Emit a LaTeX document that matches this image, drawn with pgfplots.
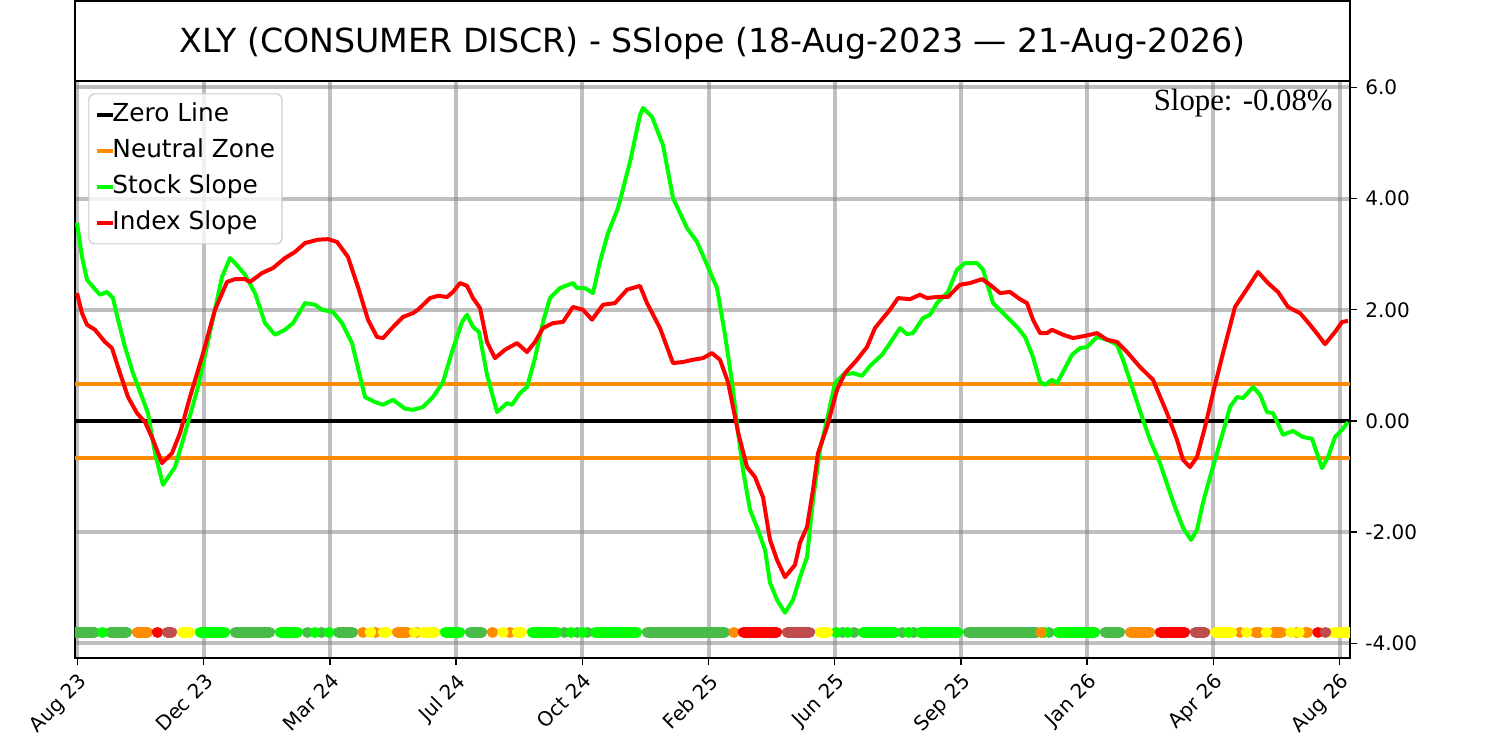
\documentclass[border=0pt]{standalone}
\usepackage{pgfplots}
\pgfplotsset{compat=1.18}
\usepackage{fontspec}
\setmainfont{DejaVu Sans}
\newfontfamily\slopefont{Liberation Serif}
\definecolor{lime}{RGB}{0,255,0}
\definecolor{dorange}{RGB}{255,140,0}
\definecolor{mgreen}{RGB}{72,187,72}
\definecolor{ired}{RGB}{192,77,77}
\definecolor{yel}{RGB}{255,255,0}
\begin{document}
\begin{tikzpicture}
\useasboundingbox (-37.5pt,-41.5pt) rectangle (712.5pt,329pt);
\begin{axis}[
  at={(0pt,0pt)}, anchor=south west,
  scale only axis, width=637.5pt, height=288.5pt,
  xmin=75, xmax=1350, ymin=-4.265, ymax=6.115,
  xtick={77.5,203.7,329.9,456.1,582.3,708.5,834.7,960.9,1087.1,1213.3,1339.5},
  xticklabels={Aug 23,Dec 23,Mar 24,Jul 24,Oct 24,Feb 25,Jun 25,Sep 25,Jan 26,Apr 26,Aug 26},
  ytick={-4,-2,0,2,4,6},
  yticklabels={-4.00,-2.00,0.00,2.00,4.00,6.0},
  xtick pos=left, ytick pos=right, yticklabel pos=right,
  tick align=outside,
  major tick length=3.5pt,
  every tick/.style={black, line width=0.75pt},
  axis line style={line width=0.9pt},
  grid=major,
  major grid style={draw=gray, draw opacity=0.5, line width=2pt},
  ticklabel style={font=\fontsize{10}{12}\selectfont},
  xticklabel style={yshift=-2pt, rotate=45, anchor=north east, inner sep=1pt},
  yticklabel style={anchor=west, inner sep=0pt, xshift=4pt},
  unbounded coords=jump,
  legend style={
    at={(0.0104,0.9787)}, anchor=north west,
    draw=black!20, line width=0.6pt, rounded corners=3pt,
    fill=white, fill opacity=0.8, text opacity=1,
    font=\fontsize{12.4}{14}\selectfont,
    inner xsep=3pt, inner ysep=4pt,
    row sep=5pt,
    nodes={inner sep=0.5pt, text height=9.5pt, text depth=2.5pt},
    /tikz/every odd column/.append style={column sep=-1.5pt},
  },
  legend cell align=left,
  legend image code/.code={\draw[#1, line width=1.8pt] (0pt,0pt) -- (8pt,0pt);},
]
\addplot[black, line width=1.8pt] coordinates {(75,0) (1350,0)};
\addlegendentry{Zero Line}
\addplot[dorange, line width=1.8pt] coordinates {(75,0.665) (1350,0.665)};
\addlegendentry{Neutral Zone}
\addplot[dorange, line width=1.8pt, forget plot] coordinates {(75,-0.665) (1350,-0.665)};
% status strip
\addplot[mgreen, line width=5.6pt, line cap=round, forget plot] coordinates {
(70,-3.8) (94.5,-3.8) (95,nan) (110.5,-3.8) (126.5,-3.8) (127,nan) (235.5,-3.8) (269.5,-3.8) (270,nan)
(307.45,-3.8) (307.55,-3.8) (308,nan) (321.45,-3.8) (321.55,-3.8) (322,nan) (338.5,-3.8) (352.5,-3.8) (353,nan)
(470.5,-3.8) (481.5,-3.8) (482,nan) (564.45,-3.8) (564.55,-3.8) (565,nan) (577.45,-3.8) (577.55,-3.8) (578,nan)
(587.45,-3.8) (587.55,-3.8) (588,nan) (647.5,-3.8) (724.5,-3.8) (725,nan) (842.45,-3.8) (842.55,-3.8) (843,nan)
(853.95,-3.8) (854.05,-3.8) (855,nan) (902.45,-3.8) (902.55,-3.8) (903,nan) (913.45,-3.8) (913.55,-3.8) (914,nan)
(968.5,-3.8) (1036.5,-3.8) (1037,nan) (1048.95,-3.8) (1049.05,-3.8) (1050,nan) (1105.5,-3.8) (1119.5,-3.8)};
\addplot[lime, line width=5.6pt, line cap=round, forget plot] coordinates {
(102.45,-3.8) (102.55,-3.8) (103,nan) (200.5,-3.8) (224.5,-3.8) (225,nan) (280.5,-3.8) (297.5,-3.8) (298,nan)
(314.95,-3.8) (315.05,-3.8) (316,nan) (328.95,-3.8) (329.05,-3.8) (330,nan) (445.5,-3.8) (459.5,-3.8) (460,nan)
(532.5,-3.8) (556.5,-3.8) (557,nan) (570.95,-3.8) (571.05,-3.8) (572,nan) (582.45,-3.8) (582.55,-3.8) (583,nan)
(595.5,-3.8) (636.5,-3.8) (637,nan) (836.45,-3.8) (836.55,-3.8) (837,nan) (847.45,-3.8) (847.55,-3.8) (848,nan)
(863.5,-3.8) (894.5,-3.8) (895,nan) (908.45,-3.8) (908.55,-3.8) (909,nan) (920.5,-3.8) (957.5,-3.8) (958,nan)
(1043.95,-3.8) (1044.05,-3.8) (1045,nan) (1058.5,-3.8) (1094.5,-3.8)};
\addplot[dorange, line width=5.6pt, line cap=round, forget plot] coordinates {
(137.5,-3.8) (147.5,-3.8) (148,nan) (362.95,-3.8) (363.05,-3.8) (364,nan) (375.45,-3.8) (375.55,-3.8) (376,nan)
(397.5,-3.8) (407.5,-3.8) (408,nan) (416.95,-3.8) (417.05,-3.8) (418,nan) (492.45,-3.8) (492.55,-3.8) (493,nan)
(509.95,-3.8) (510.05,-3.8) (511,nan) (733.95,-3.8) (734.05,-3.8) (735,nan) (1040.95,-3.8) (1041.05,-3.8) (1042,nan)
(1130.5,-3.8) (1149.5,-3.8) (1150,nan) (1239.95,-3.8) (1240.05,-3.8) (1241,nan) (1255.5,-3.8) (1259.5,-3.8) (1260,nan)
(1273.5,-3.8) (1281.5,-3.8) (1282,nan) (1296.45,-3.8) (1296.55,-3.8) (1297,nan) (1305.5,-3.8) (1307.5,-3.8)};
\addplot[yel, line width=5.6pt, line cap=round, forget plot] coordinates {
(182.5,-3.8) (189.5,-3.8) (190,nan) (370.45,-3.8) (370.55,-3.8) (371,nan) (383.5,-3.8) (386.5,-3.8) (387,nan)
(414.45,-3.8) (414.55,-3.8) (415,nan) (423.5,-3.8) (434.5,-3.8) (435,nan) (502.95,-3.8) (503.05,-3.8) (504,nan)
(517.5,-3.8) (521.5,-3.8) (522,nan) (820.5,-3.8) (827.5,-3.8) (828,nan) (1215.5,-3.8) (1231.5,-3.8) (1232,nan)
(1246.45,-3.8) (1246.55,-3.8) (1247,nan) (1266.45,-3.8) (1266.55,-3.8) (1267,nan) (1290.95,-3.8) (1291.05,-3.8) (1292,nan)
(1298.95,-3.8) (1299.05,-3.8) (1300,nan) (1333.5,-3.8) (1360,-3.8)};
\addplot[red, line width=5.6pt, line cap=round, forget plot] coordinates {
(157.45,-3.8) (157.55,-3.8) (158,nan) (743.5,-3.8) (776.5,-3.8) (777,nan) (1160.5,-3.8) (1184.5,-3.8) (1185,nan)
(1317.95,-3.8) (1318.05,-3.8)};
\addplot[ired, line width=5.6pt, line cap=round, forget plot] coordinates {
(167.5,-3.8) (171.5,-3.8) (172,nan) (787.5,-3.8) (809.5,-3.8) (810,nan) (1195.5,-3.8) (1204.5,-3.8) (1205,nan)
(1325.45,-3.8) (1325.55,-3.8)};
% slopes
\addplot[lime, line width=2pt, line join=round] coordinates {
(77,3.56)(82,2.95)(87,2.54)(93,2.41)(100,2.27)(107,2.32)(113,2.21)(118,1.82)(125,1.33)(133,0.86)(142,0.43)(148,0.14)
(155,-0.58)(163,-1.15)(175,-0.83)(185,-0.22)(198,0.61)(212,1.76)(222,2.59)(230,2.93)(235,2.84)(245,2.63)(255,2.30)
(265,1.76)(275,1.55)(285,1.64)(293,1.76)(305,2.12)(315,2.09)(322,2.00)(333,1.96)(342,1.76)(352,1.40)(365,0.43)
(375,0.34)(383,0.29)(393,0.38)(405,0.22)(413,0.20)(423,0.25)(433,0.43)(443,0.70)(452,1.24)(462,1.78)(467,1.91)
(473,1.69)(479,1.60)(487,0.83)(497,0.16)(507,0.32)(512,0.29)(520,0.50)(527,0.61)(535,1.13)(543,1.78)(550,2.21)
(560,2.39)(573,2.48)(577,2.39)(585,2.39)(593,2.30)(600,2.86)(608,3.38)(618,3.83)(630,4.66)(640,5.50)(643,5.63)
(652,5.47)(663,4.96)(673,4.01)(687,3.47)(697,3.22)(707,2.81)(717,2.39)(725,1.55)(732,0.70)(738,-0.20)(743,-0.88)
(750,-1.60)(758,-1.96)(765,-2.32)(770,-2.91)(777,-3.22)(785,-3.45)(793,-3.22)(800,-2.81)(807,-2.45)(813,-1.42)
(820,-0.52)(827,0.02)(835,0.68)(843,0.83)(853,0.86)(862,0.81)(870,0.99)(882,1.19)(890,1.40)(900,1.67)(907,1.56)
(913,1.58)(923,1.85)(930,1.91)(937,2.12)(948,2.32)(957,2.72)(965,2.84)(977,2.84)(983,2.72)(993,2.12)(1007,1.87)
(1018,1.67)(1025,1.51)(1033,1.15)(1040,0.70)(1045,0.65)(1052,0.74)(1057,0.68)(1063,0.88)(1072,1.19)(1080,1.31)
(1087,1.33)(1097,1.51)(1107,1.46)(1117,1.37)(1123,1.10)(1133,0.56)(1142,0.07)(1150,-0.34)(1160,-0.76)(1168,-1.19)
(1175,-1.55)(1183,-1.92)(1191,-2.14)(1197,-1.96)(1203,-1.47)(1210,-1.01)(1217,-0.58)(1223,-0.20)(1230,0.25)
(1237,0.43)(1243,0.41)(1253,0.61)(1260,0.47)(1267,0.16)(1273,0.14)(1283,-0.25)(1293,-0.18)(1303,-0.29)(1312,-0.32)
(1322,-0.85)(1328,-0.65)(1335,-0.29)(1342,-0.16)(1348,-0.02)};
\addlegendentry{Stock Slope}
\addplot[red, line width=2pt, line join=round] coordinates {
(77,2.30)(82,1.94)(87,1.73)(95,1.64)(105,1.42)(112,1.31)(118,0.97)(128,0.43)(137,0.14)(145,-0.02)(153,-0.34)
(162,-0.76)(172,-0.58)(180,-0.22)(190,0.43)(202,1.15)(215,2.00)(227,2.50)(235,2.55)(245,2.55)(250,2.50)(262,2.66)
(273,2.75)(285,2.93)(295,3.04)(305,3.20)(318,3.26)(328,3.27)(337,3.22)(348,2.95)(358,2.41)(368,1.82)(377,1.51)
(383,1.49)(392,1.67)(403,1.87)(413,1.94)(418,2.00)(430,2.21)(438,2.25)(447,2.23)(453,2.32)(460,2.48)(467,2.43)
(473,2.21)(480,2.03)(487,1.42)(495,1.13)(505,1.28)(517,1.40)(527,1.24)(535,1.42)(543,1.67)(553,1.76)(563,1.78)
(573,2.05)(583,2.00)(592,1.82)(603,2.09)(615,2.12)(627,2.36)(640,2.43)(647,2.12)(660,1.67)(673,1.04)(683,1.06)
(693,1.10)(703,1.13)(712,1.22)(720,1.10)(728,0.70)(738,-0.20)(747,-0.83)(755,-1.01)(763,-1.37)(770,-2.14)(777,-2.50)
(785,-2.81)(795,-2.59)(800,-2.19)(807,-1.91)(813,-1.24)(818,-0.58)(827,-0.11)(837,0.56)(845,0.86)(857,1.10)
(867,1.33)(875,1.67)(883,1.85)(890,2.00)(898,2.21)(910,2.19)(920,2.27)(927,2.21)(937,2.23)(948,2.23)(960,2.45)
(970,2.48)(982,2.55)(990,2.45)(1000,2.30)(1010,2.32)(1020,2.19)(1027,2.12)(1033,1.82)(1040,1.58)(1047,1.58)
(1052,1.64)(1063,1.55)(1073,1.49)(1085,1.53)(1097,1.58)(1107,1.46)(1117,1.42)(1127,1.24)(1140,0.97)(1153,0.74)
(1167,0.14)(1177,-0.34)(1183,-0.70)(1190,-0.83)(1197,-0.65)(1205,-0.11)(1213,0.50)(1223,1.22)(1235,2.05)(1245,2.32)
(1258,2.68)(1268,2.48)(1278,2.32)(1288,2.05)(1300,1.94)(1310,1.73)(1318,1.55)(1325,1.38)(1335,1.60)(1342,1.78)
(1348,1.80)};
\addlegendentry{Index Slope}
\end{axis}
\draw[line width=1pt] (0pt,288.5pt) rectangle (637.5pt,328.5pt);
\node[anchor=base, font=\fontsize{16.6}{20}\selectfont, inner sep=0pt] at (318.75pt,302.5pt) {XLY (CONSUMER DISCR) - SSlope (18-Aug-2023 — 21-Aug-2026)};
\node[anchor=base east, font=\slopefont\fontsize{15.4}{18}\selectfont, inner sep=0pt] at (629pt,274pt) {Slope: -0.08\%};
\end{tikzpicture}
\end{document}
